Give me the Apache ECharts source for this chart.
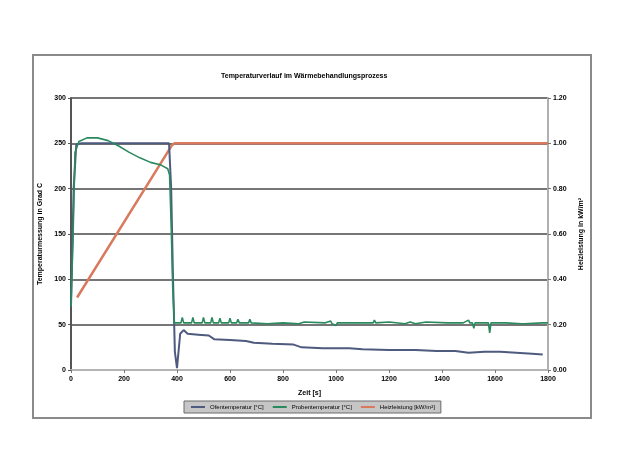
<!DOCTYPE html>
<html>
<head>
<meta charset="utf-8">
<script src="https://cdn.jsdelivr.net/npm/echarts@6/dist/echarts.min.js"></script>
<style>
html,body{margin:0;padding:0;background:#fff;}
#chart{width:634px;height:475px;}
</style>
</head>
<body>
<div id="chart"></div>
<script>
// ---- data ----
const titleText = 'Temperaturverlauf im Wärmebehandlungsprozess';
const xName = 'Zeit [s]';
const leftName = 'Temperaturmessung in Grad C';
const rightName = 'Heizleistung in kW/m²';
const seriesNames = ['Ofentemperatur [°C]', 'Probentemperatur [°C]', 'Heizleistung [kW/m²]'];

const ofenTime = [0, 10, 20, 40, 100, 200, 300, 370, 378, 385, 392, 400, 412, 425, 440, 480, 520, 540, 600, 660, 690, 760, 840, 870, 950, 1050, 1100, 1200, 1300, 1380, 1450, 1500, 1560, 1620, 1680, 1740, 1780];
const ofenTemp = [70, 200, 249, 250, 250, 250, 250, 250, 200, 100, 20, 2, 40, 44, 40, 39, 38, 34, 33, 32, 30, 29, 28, 25, 24, 24, 23, 22, 22, 21, 21, 19, 20, 20, 19, 18, 17];

const probeTime = [0, 8, 15, 30, 60, 100, 140, 180, 220, 260, 300, 340, 365, 372, 378, 384, 390,
  400, 415, 420, 425, 455, 460, 465, 495, 500, 505, 527, 532, 537, 557, 562, 567, 595, 600, 605,
  625, 630, 635, 670, 675, 680, 740, 800, 860, 880, 885, 960, 980, 985, 1000, 1005, 1080, 1085, 1090,
  1140, 1145, 1150, 1200, 1260, 1280, 1300, 1340, 1345, 1420, 1425, 1430, 1480, 1500, 1505,
  1515, 1520, 1525, 1575, 1580, 1585, 1640, 1700, 1705, 1710, 1780, 1800];
const probeTemp = [70, 150, 240, 252, 256, 256, 253, 247, 240, 234, 229, 226, 222, 215, 160, 90, 52,
  52, 52, 58, 52, 52, 58, 52, 52, 58, 52, 52, 58, 52, 52, 57, 52, 52, 57, 52,
  52, 56, 52, 52, 56, 52, 51, 52, 51, 53, 51, 52, 54, 51, 49, 52, 52, 54, 52,
  52, 55, 52, 53, 51, 53, 51, 53, 51, 52, 54, 52, 52, 55, 52,
  52, 46, 52, 52, 41, 52, 52, 51, 53, 51, 52, 52];

const powerTime = [23, 380, 390, 1800];
const powerValue = [0.32, 0.99, 1.0, 1.0];

const leftMin = 0, leftMax = 300, leftStep = 50;
const rightMin = 0, rightMax = 1.2, rightStep = 0.2;
const xMin = 0, xMax = 1800, xStep = 200;

// ---- chart ----
const zip = (a, b) => a.map((t, i) => [t, b[i]]);
const font = 'Liberation Sans, Arial, sans-serif';
const chart = echarts.init(document.getElementById('chart'), null, {renderer: 'canvas'});
chart.setOption({
  animation: false,
  backgroundColor: '#ffffff',
  textStyle: {fontFamily: font},
  title: {
    text: titleText, left: 216, top: 68,
    textStyle: {fontSize: 7, fontWeight: 'bold', color: '#000', fontFamily: font}
  },
  graphic: [{
    type: 'rect', z: -1, silent: true,
    shape: {x: 33, y: 55, width: 558, height: 363},
    style: {fill: 'none', stroke: '#8a8a8a', lineWidth: 2}
  }],
  legend: {
    left: 184, top: 401,
    itemWidth: 14, itemHeight: 2, itemGap: 8,
    padding: [3, 6],
    backgroundColor: '#c6c6c6', borderColor: '#6a6a6a', borderWidth: 1,
    textStyle: {fontSize: 6, color: '#000', fontFamily: font},
    data: seriesNames
  },
  grid: {
    left: 71, right: 86, top: 98, bottom: 105,
    show: true, borderColor: '#cfcfcf', borderWidth: 1, backgroundColor: '#ffffff'
  },
  xAxis: {
    type: 'value', min: xMin, max: xMax, interval: xStep,
    name: xName, nameLocation: 'middle', nameGap: 20,
    nameTextStyle: {fontSize: 7, fontWeight: 'bold', color: '#000'},
    axisLine: {show: true, lineStyle: {color: '#b4b4b4', width: 2}},
    axisTick: {show: true, length: 3, lineStyle: {color: '#777'}},
    axisLabel: {fontSize: 7, fontWeight: 'bold', color: '#000', margin: 6,
      formatter: v => String(v)},
    splitLine: {show: false}
  },
  yAxis: [{
    type: 'value', min: leftMin, max: leftMax, interval: leftStep,
    name: leftName, nameLocation: 'middle', nameGap: 26, nameRotate: 90,
    nameTextStyle: {fontSize: 7, fontWeight: 'bold', color: '#000'},
    axisLine: {show: true, lineStyle: {color: '#555', width: 2}},
    axisTick: {show: true, length: 3, lineStyle: {color: '#555'}},
    axisLabel: {fontSize: 7, fontWeight: 'bold', color: '#000', margin: 5},
    splitLine: {show: true, lineStyle: {color: '#767676', width: 2}}
  }, {
    type: 'value', min: rightMin, max: rightMax, interval: rightStep,
    name: rightName, nameLocation: 'middle', nameGap: 30, nameRotate: 90,
    nameTextStyle: {fontSize: 7, fontWeight: 'bold', color: '#000'},
    axisLine: {show: true, lineStyle: {color: '#b0b0b0', width: 2}},
    axisTick: {show: true, length: 3, lineStyle: {color: '#777'}},
    axisLabel: {fontSize: 7, fontWeight: 'bold', color: '#000', margin: 5,
      formatter: v => v.toFixed(2)},
    splitLine: {show: false}
  }],
  series: [{
    name: seriesNames[2], type: 'line', yAxisIndex: 1, symbol: 'none', z: 3,
    data: zip(powerTime, powerValue),
    lineStyle: {color: '#d97a5e', width: 2.5}, itemStyle: {color: '#d97a5e'}
  }, {
    name: seriesNames[0], type: 'line', yAxisIndex: 0, symbol: 'none', z: 4,
    data: zip(ofenTime, ofenTemp),
    lineStyle: {color: '#4e5a7e', width: 2}, itemStyle: {color: '#4e5a7e'}
  }, {
    name: seriesNames[1], type: 'line', yAxisIndex: 0, symbol: 'none', z: 5,
    data: zip(probeTime, probeTemp),
    lineStyle: {color: '#2a8a5e', width: 1.6}, itemStyle: {color: '#2a8a5e'}
  }]
});
</script>
</body>
</html>
